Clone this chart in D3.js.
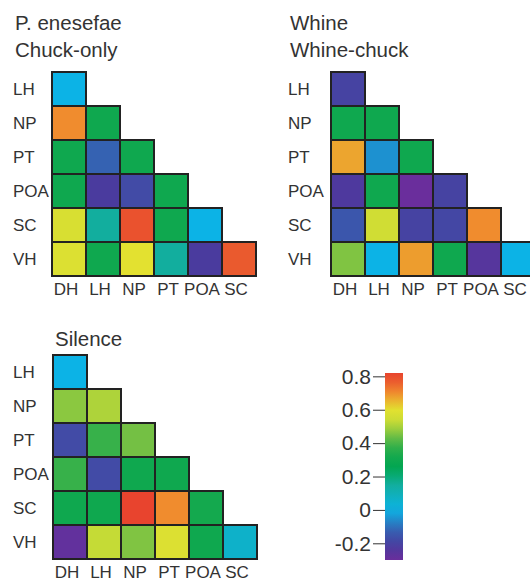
<!DOCTYPE html>
<html>
<head>
<meta charset="utf-8">
<script src="https://cdn.jsdelivr.net/npm/d3@7"></script>
<style>
  body { margin: 0; background: #fff; }
  text { font-family: "Liberation Sans", Arial, sans-serif; fill: #333; }
</style>
</head>
<body>
<svg id="chart" width="530" height="581"></svg>
<script>
// region names
const colNames = ["DH", "LH", "NP", "PT", "POA", "SC"];
const rowNames = ["LH", "NP", "PT", "POA", "SC", "VH"];

// correlation values, lower triangle, row by row (LH..VH)
const chuckOnly = [
  [0.0],
  [0.7, 0.3],
  [0.3, -0.12, 0.3],
  [0.3, -0.22, -0.18, 0.3],
  [0.57, 0.15, 0.78, 0.3, 0.0],
  [0.58, 0.3, 0.6, 0.15, -0.22, 0.77]
];
const whineChuck = [
  [-0.2],
  [0.3, 0.3],
  [0.67, -0.05, 0.3],
  [-0.23, 0.3, -0.3, -0.2],
  [-0.15, 0.55, -0.2, -0.19, 0.7],
  [0.46, 0.0, 0.68, 0.3, -0.25, 0.0]
];
const silence = [
  [0.0],
  [0.47, 0.5],
  [-0.18, 0.38, 0.45],
  [0.38, -0.18, 0.3, 0.3],
  [0.3, 0.3, 0.8, 0.7, 0.32],
  [-0.28, 0.52, 0.46, 0.58, 0.3, 0.06]
];

// colour bar
const cbTicks = [0.8, 0.6, 0.4, 0.2, 0, -0.2];
const cbDomain = [-0.3, 0.82];

const color = d3.scaleLinear()
  .domain([-0.3, -0.22, -0.12, 0.0, 0.15, 0.25, 0.35, 0.45, 0.52, 0.6, 0.7, 0.8])
  .range(["#6a2e9c", "#4a3b9e", "#3562b2", "#0cb3e6", "#12ae9e", "#00a651", "#1daa4c",
          "#74c044", "#c5db36", "#e3e130", "#f08c2e", "#e8442e"])
  .clamp(true);

const svg = d3.select("#chart");
const cell = 34;

function drawPanel(opts) {
  const g = svg.append("g");
  const x = d3.scaleBand().domain(colNames).range([opts.x, opts.x + cell * 6]);
  const y = d3.scaleBand().domain(rowNames).range([opts.y, opts.y + cell * 6]);

  opts.title.forEach((t, i) => {
    g.append("text")
      .attr("x", opts.tx)
      .attr("y", opts.ty + i * 27)
      .style("font-size", "20.5px")
      .text(t);
  });

  const cells = [];
  opts.data.forEach((row, i) => {
    row.forEach((v, j) => cells.push({ r: rowNames[i], c: colNames[j], v: v }));
  });

  g.selectAll("rect.cell")
    .data(cells)
    .enter()
    .append("rect")
      .attr("class", "cell")
      .attr("x", d => x(d.c))
      .attr("y", d => y(d.r))
      .attr("width", x.bandwidth())
      .attr("height", y.bandwidth())
      .attr("fill", d => color(d.v))
      .attr("stroke", "#222")
      .attr("stroke-width", 2);

  // row labels
  g.selectAll("text.row")
    .data(rowNames)
    .enter()
    .append("text")
      .attr("x", opts.lx)
      .attr("y", d => y(d) + y.bandwidth() / 2 + 6)
      .style("font-size", "17px")
      .text(d => d);

  // column labels
  g.selectAll("text.col")
    .data(colNames)
    .enter()
    .append("text")
      .attr("x", d => x(d) + x.bandwidth() / 2 - 3)
      .attr("y", opts.y + cell * 6 + 19)
      .attr("text-anchor", "middle")
      .style("font-size", "17px")
      .text(d => d);
}

drawPanel({ data: chuckOnly, title: ["P. enesefae", "Chuck-only"], x: 52, y: 72, tx: 15, ty: 30, lx: 13 });
drawPanel({ data: whineChuck, title: ["Whine", "Whine-chuck"], x: 331, y: 72, tx: 290, ty: 30, lx: 288 });
drawPanel({ data: silence, title: ["Silence"], x: 53, y: 355, tx: 55, ty: 346, lx: 13 });

// colour bar
const cbY = d3.scaleLinear().domain(cbDomain).range([560, 373]);
const grad = svg.append("defs").append("linearGradient")
  .attr("id", "cbgrad")
  .attr("x1", 0).attr("y1", 1).attr("x2", 0).attr("y2", 0);
d3.range(0, 1.0001, 0.05).forEach(t => {
  const v = cbDomain[0] + t * (cbDomain[1] - cbDomain[0]);
  grad.append("stop").attr("offset", t).attr("stop-color", color(v));
});
svg.append("rect")
  .attr("x", 385)
  .attr("y", cbY(cbDomain[1]))
  .attr("width", 18)
  .attr("height", cbY(cbDomain[0]) - cbY(cbDomain[1]))
  .attr("fill", "url(#cbgrad)");

const cbAxis = svg.append("g").attr("transform", "translate(385,0)")
  .call(d3.axisLeft(cbY).tickValues(cbTicks).tickSize(12).tickFormat(d => String(+d.toFixed(1))));
cbAxis.select(".domain").remove();
cbAxis.selectAll("line").attr("stroke", "#333");
cbAxis.selectAll("text")
  .style("font-size", "21px")
  .style("font-family", "'Liberation Sans', Arial, sans-serif")
  .attr("fill", "#333")
  .attr("x", -14);
</script>
</body>
</html>
